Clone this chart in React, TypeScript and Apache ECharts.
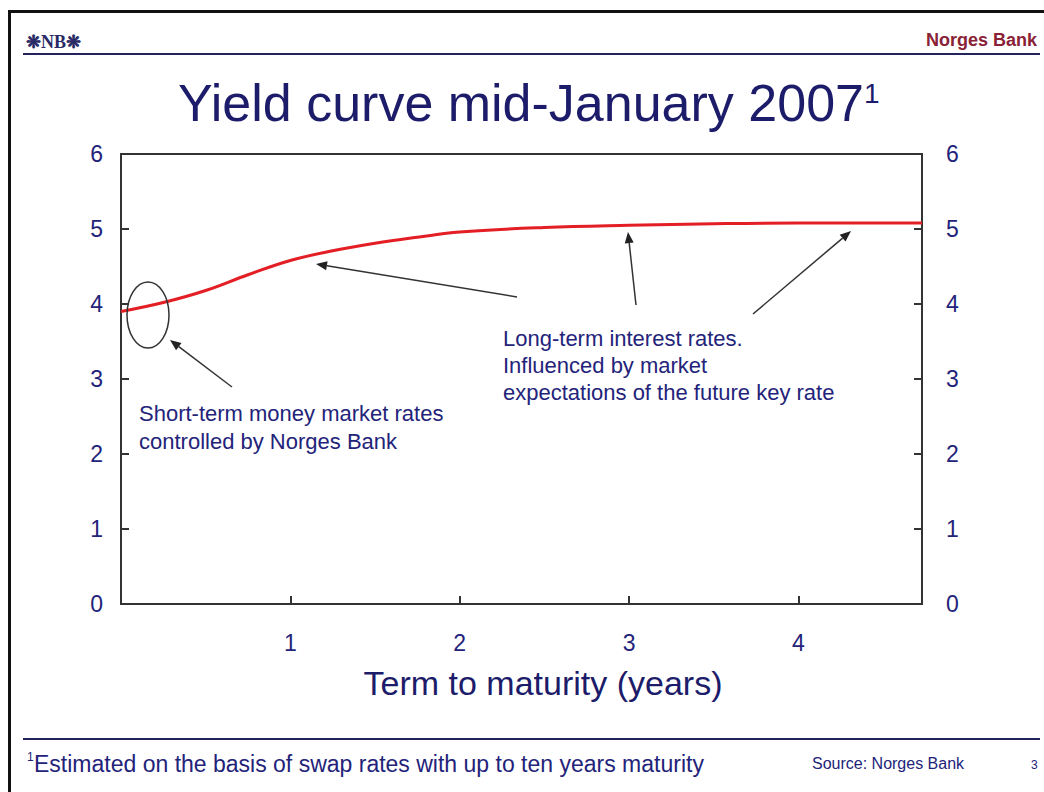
import React, { useEffect, useRef } from "react";
import * as echarts from "echarts";

// Data: term to maturity (years) and yield (%)
const maturities = [0, 0.25, 0.5, 0.75, 1.0, 1.25, 1.5, 1.75, 2.0, 2.5, 3.0, 3.5, 4.0, 4.73];
const yields = [3.9, 4.02, 4.18, 4.39, 4.58, 4.71, 4.81, 4.89, 4.96, 5.02, 5.05, 5.07, 5.08, 5.08];
const xTickLabels = ["1", "2", "3", "4"];
const yTickLabels = ["0", "1", "2", "3", "4", "5", "6"];

const NAVY = "#23237a";
const FONT = "'Liberation Sans', Arial, sans-serif";

function arrow(x1: number, y1: number, x2: number, y2: number) {
  const dx = x2 - x1;
  const dy = y2 - y1;
  const len = Math.sqrt(dx * dx + dy * dy);
  const ux = dx / len;
  const uy = dy / len;
  const hl = 11;
  const hw = 4.5;
  const bx = x2 - ux * hl;
  const by = y2 - uy * hl;
  return {
    type: "group",
    children: [
      {
        type: "line",
        shape: { x1, y1, x2: bx, y2: by },
        style: { stroke: "#333", lineWidth: 1.5 },
      },
      {
        type: "polygon",
        shape: {
          points: [
            [x2, y2],
            [bx - uy * hw, by + ux * hw],
            [bx + uy * hw, by - ux * hw],
          ],
        },
        style: { fill: "#222" },
      },
    ],
  };
}

export default function App() {
  const ref = useRef<HTMLDivElement>(null);

  useEffect(() => {
    if (!ref.current) return;
    const chart = echarts.init(ref.current, null, { renderer: "svg" });
    const axisLabelY = {
      color: NAVY,
      fontSize: 23,
      fontFamily: FONT,
      formatter: (v: number) => yTickLabels[Math.round(v)] ?? "",
    };
    chart.setOption({
      animation: false,
      backgroundColor: "#fff",
      grid: {
        left: 121,
        top: 154,
        width: 801,
        height: 450,
        show: true,
        borderColor: "#333",
        borderWidth: 2,
      },
      xAxis: {
        type: "value",
        min: 0,
        max: 4.73,
        interval: 1,
        axisLine: { show: false },
        axisTick: { show: true, inside: true, length: 8, lineStyle: { color: "#333", width: 2 } },
        splitLine: { show: false },
        axisLabel: {
          color: NAVY,
          fontSize: 23,
          fontFamily: FONT,
          margin: 27,
          formatter: (v: number) => {
            const i = Math.round(v);
            if (Math.abs(v - i) > 1e-6 || i < 1 || i > 4) return "";
            return xTickLabels[i - 1];
          },
        },
      },
      yAxis: [
        {
          type: "value",
          position: "left",
          min: 0,
          max: 6,
          interval: 1,
          axisLine: { show: false },
          axisTick: { show: true, inside: true, length: 8, lineStyle: { color: "#333", width: 2 } },
          splitLine: { show: false },
          axisLabel: { ...axisLabelY, margin: 18 },
        },
        {
          type: "value",
          position: "right",
          min: 0,
          max: 6,
          interval: 1,
          axisLine: { show: false },
          axisTick: { show: true, inside: true, length: 8, lineStyle: { color: "#333", width: 2 } },
          splitLine: { show: false },
          axisLabel: { ...axisLabelY, margin: 24 },
        },
      ],
      series: [
        {
          type: "line",
          data: maturities.map((m, i) => [m, yields[i]]),
          smooth: 0.4,
          showSymbol: false,
          lineStyle: { color: "#e31e24", width: 3 },
          z: 3,
        },
      ],
      graphic: [
        // outer frame
        {
          type: "rect",
          shape: { x: 9.5, y: 11.5, width: 1200, height: 900 },
          style: { fill: "none", stroke: "#111", lineWidth: 3 },
          silent: true,
        },
        // header line
        {
          type: "line",
          shape: { x1: 23, y1: 54, x2: 1040, y2: 54 },
          style: { stroke: "#23235e", lineWidth: 2 },
        },
        // footer line
        {
          type: "line",
          shape: { x1: 23, y1: 739, x2: 1040, y2: 739 },
          style: { stroke: "#23235e", lineWidth: 2 },
        },
        // logo
        {
          type: "text",
          x: 26,
          y: 42,
          style: {
            text: "❋NB❋",
            fill: "#2a2a66",
            fontSize: 18,
            fontWeight: "bold",
            fontFamily: "'Liberation Serif', 'DejaVu Serif', serif",
            verticalAlign: "middle",
            align: "left",
          },
        },
        {
          type: "text",
          x: 1037,
          y: 40,
          style: {
            text: "Norges Bank",
            fill: "#8a2236",
            fontSize: 18,
            fontWeight: "bold",
            fontFamily: FONT,
            verticalAlign: "middle",
            align: "right",
          },
        },
        // title
        {
          type: "text",
          x: 178,
          y: 103,
          style: {
            text: "Yield curve mid-January 2007",
            fill: "#1c1c6a",
            fontSize: 52,
            fontFamily: FONT,
            verticalAlign: "middle",
            align: "left",
          },
        },
        {
          type: "text",
          x: 864,
          y: 93,
          style: {
            text: "1",
            fill: "#1c1c6a",
            fontSize: 28,
            fontFamily: FONT,
            verticalAlign: "middle",
            align: "left",
          },
        },
        // x axis name
        {
          type: "text",
          x: 543,
          y: 683,
          style: {
            text: "Term to maturity (years)",
            fill: "#1c1c6a",
            fontSize: 34,
            fontFamily: FONT,
            verticalAlign: "middle",
            align: "center",
          },
        },
        // annotations
        {
          type: "ellipse",
          shape: { cx: 148, cy: 315, rx: 21, ry: 33 },
          style: { fill: "none", stroke: "#333", lineWidth: 1.5 },
          z: 10,
        },
        { ...arrow(232, 387, 170, 340), z: 10 },
        { ...arrow(517, 297, 316, 264), z: 10 },
        { ...arrow(636, 305, 628, 232), z: 10 },
        { ...arrow(753, 314, 851, 231), z: 10 },
        {
          type: "text",
          x: 139,
          y: 399,
          style: {
            text: "Short-term money market rates\ncontrolled by Norges Bank",
            fill: NAVY,
            fontSize: 22,
            lineHeight: 28,
            fontFamily: FONT,
            verticalAlign: "top",
            align: "left",
          },
        },
        {
          type: "text",
          x: 503,
          y: 325,
          style: {
            text: "Long-term interest rates.\nInfluenced by market\nexpectations of the future key rate",
            fill: NAVY,
            fontSize: 22,
            lineHeight: 27,
            fontFamily: FONT,
            verticalAlign: "top",
            align: "left",
          },
        },
        // footnote
        {
          type: "text",
          x: 27,
          y: 757,
          style: {
            text: "1",
            fill: NAVY,
            fontSize: 12,
            fontFamily: FONT,
            verticalAlign: "middle",
            align: "left",
          },
        },
        {
          type: "text",
          x: 34,
          y: 764,
          style: {
            text: "Estimated on the basis of swap rates with up to ten years maturity",
            fill: NAVY,
            fontSize: 23,
            fontFamily: FONT,
            verticalAlign: "middle",
            align: "left",
          },
        },
        {
          type: "text",
          x: 812,
          y: 763,
          style: {
            text: "Source: Norges Bank",
            fill: NAVY,
            fontSize: 16,
            fontFamily: FONT,
            verticalAlign: "middle",
            align: "left",
          },
        },
        {
          type: "text",
          x: 1031,
          y: 765,
          style: {
            text: "3",
            fill: NAVY,
            fontSize: 12,
            fontFamily: FONT,
            verticalAlign: "middle",
            align: "left",
          },
        },
      ],
    });
    return () => chart.dispose();
  }, []);

  return (
    <div
      ref={ref}
      style={{ position: "fixed", left: 0, top: 0, width: 1044, height: 792, background: "#fff" }}
    />
  );
}
